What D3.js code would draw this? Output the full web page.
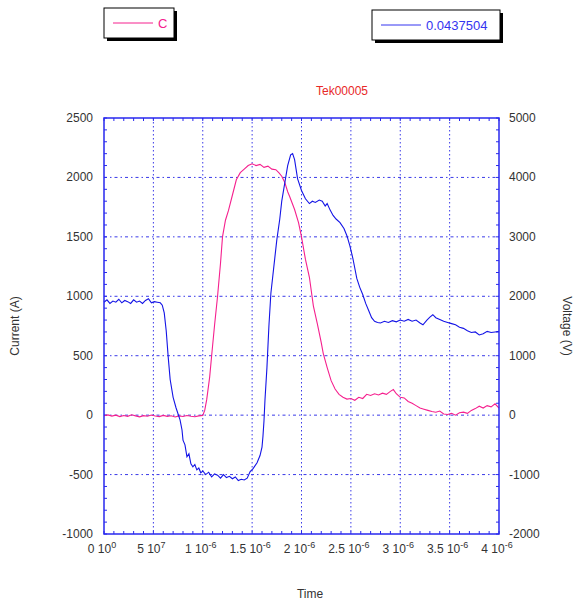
<!DOCTYPE html>
<html>
<head>
<meta charset="utf-8">
<script src="https://cdn.jsdelivr.net/npm/d3@7"></script>
<style>
  body { margin: 0; background: #fff; }
  svg { display: block; font-family: "Liberation Sans", Arial, sans-serif; }
</style>
</head>
<body>
<div id="container"></div>
<script>
// data (time in microseconds)
const currentPts = [
  [0.00, -5], [0.04, 2], [0.08, -8], [0.12, 0], [0.16, -12], [0.20, -3], [0.24, -10], [0.28, 3],
  [0.32, -6], [0.36, -14], [0.40, -4], [0.44, -9], [0.48, 1], [0.52, -7], [0.56, -12], [0.60, -2],
  [0.64, -10], [0.68, -5], [0.72, -15], [0.76, -6], [0.80, -11], [0.84, -3], [0.88, -9], [0.92, -14],
  [0.96, -6], [1.00, -2], [1.02, 40], [1.04, 130], [1.07, 320], [1.09, 500], [1.12, 760], [1.15, 1000],
  [1.18, 1280], [1.20, 1500], [1.23, 1640], [1.26, 1720], [1.30, 1850], [1.34, 1980], [1.38, 2040],
  [1.42, 2070], [1.46, 2100], [1.50, 2115], [1.54, 2100], [1.58, 2110], [1.62, 2085], [1.66, 2095],
  [1.70, 2070], [1.74, 2065], [1.77, 2040], [1.80, 2010], [1.83, 1960], [1.86, 1880], [1.88, 1840],
  [1.93, 1730], [1.97, 1620], [2.00, 1500], [2.04, 1310], [2.08, 1160], [2.12, 920], [2.16, 770],
  [2.20, 610], [2.22, 520], [2.26, 400], [2.30, 290], [2.34, 220], [2.38, 175], [2.42, 150], [2.46, 135],
  [2.50, 140], [2.54, 125], [2.58, 150], [2.62, 140], [2.66, 175], [2.70, 165], [2.74, 180], [2.78, 170],
  [2.82, 185], [2.86, 175], [2.90, 200], [2.93, 215], [2.96, 180], [3.00, 150], [3.04, 145], [3.08, 115],
  [3.12, 100], [3.16, 80], [3.20, 60], [3.24, 50], [3.28, 40], [3.32, 30], [3.36, 25], [3.40, 35],
  [3.44, 10], [3.48, 5], [3.52, 15], [3.56, 0], [3.60, 20], [3.64, 25], [3.68, 15], [3.72, 40],
  [3.76, 55], [3.80, 75], [3.84, 60], [3.88, 80], [3.92, 70], [3.96, 95], [4.00, 60]
];

const voltagePts = [
  [0.00, 1900], [0.03, 1940], [0.06, 1880], [0.09, 1920], [0.12, 1900], [0.15, 1950], [0.18, 1890],
  [0.21, 1930], [0.24, 1910], [0.27, 1880], [0.30, 1940], [0.33, 1900], [0.36, 1920], [0.39, 1880],
  [0.42, 1930], [0.45, 1960], [0.48, 1890], [0.51, 1910], [0.54, 1900], [0.57, 1890], [0.59, 1850],
  [0.61, 1720], [0.63, 1420], [0.65, 980], [0.67, 600], [0.70, 300], [0.73, 120], [0.77, -80],
  [0.79, -250], [0.80, -420], [0.82, -500], [0.84, -700], [0.86, -650], [0.88, -820], [0.90, -870],
  [0.92, -830], [0.94, -920], [0.96, -890], [0.98, -970], [1.00, -940], [1.03, -1000], [1.06, -960],
  [1.09, -1040], [1.12, -990], [1.15, -1010], [1.18, -1060], [1.21, -1000], [1.24, -1050], [1.27, -1030],
  [1.30, -1070], [1.33, -1040], [1.36, -1100], [1.39, -1080], [1.42, -1090], [1.45, -1060], [1.48, -950],
  [1.51, -900], [1.55, -800], [1.58, -680], [1.60, -540], [1.61, -350], [1.62, -100], [1.63, 250],
  [1.65, 800], [1.67, 1500], [1.69, 2050], [1.71, 2350], [1.73, 2650], [1.75, 2950], [1.78, 3300],
  [1.80, 3600], [1.83, 3900], [1.86, 4200], [1.89, 4380], [1.91, 4400], [1.93, 4300], [1.96, 3980],
  [2.00, 3780], [2.04, 3640], [2.08, 3560], [2.11, 3600], [2.14, 3580], [2.18, 3620], [2.21, 3600],
  [2.24, 3520], [2.26, 3560], [2.29, 3450], [2.32, 3360], [2.35, 3300], [2.39, 3240], [2.43, 3140],
  [2.46, 3020], [2.49, 2850], [2.52, 2640], [2.56, 2300], [2.59, 2150], [2.62, 2030], [2.65, 1880],
  [2.68, 1760], [2.71, 1640], [2.74, 1580], [2.77, 1560], [2.80, 1550], [2.84, 1580], [2.88, 1560],
  [2.92, 1590], [2.96, 1570], [3.00, 1600], [3.04, 1580], [3.08, 1610], [3.12, 1580], [3.16, 1600],
  [3.20, 1550], [3.23, 1520], [3.27, 1600], [3.30, 1650], [3.33, 1690], [3.36, 1640], [3.40, 1610],
  [3.44, 1580], [3.48, 1560], [3.52, 1540], [3.56, 1520], [3.60, 1480], [3.64, 1460], [3.68, 1420],
  [3.72, 1390], [3.76, 1400], [3.80, 1350], [3.84, 1370], [3.88, 1410], [3.92, 1390], [3.96, 1400],
  [4.00, 1410]
];

const xTicks = [0, 0.5, 1, 1.5, 2, 2.5, 3, 3.5, 4];
const xTickMant = ["0", "5", "1", "1.5", "2", "2.5", "3", "3.5", "4"];
const xTickExp = ["0", "7", "-6", "-6", "-6", "-6", "-6", "-6", "-6"];
const yLeftTicks = [-1000, -500, 0, 500, 1000, 1500, 2000, 2500];
const yRightTicks = [-2000, -1000, 0, 1000, 2000, 3000, 4000, 5000];

const legendLabels = ["C", "0.0437504"];
const title = "Tek00005";

const W = 578, H = 602;
const plot = {left: 104, right: 499, top: 118, bottom: 534};
const pink = "#f5208e", blue = "#1414e6", frame = "#2828ee", grid = "#3a3ae8";

const svg = d3.select("#container").append("svg")
  .attr("width", W).attr("height", H);

const x = d3.scaleLinear().domain([0, 4]).range([plot.left, plot.right]);
const yL = d3.scaleLinear().domain([-1000, 2500]).range([plot.bottom, plot.top]);
const yR = d3.scaleLinear().domain([-2000, 5000]).range([plot.bottom, plot.top]);

// grid
svg.append("g").selectAll("line").data(xTicks.slice(1, -1)).join("line")
  .attr("x1", d => x(d)).attr("x2", d => x(d))
  .attr("y1", plot.top).attr("y2", plot.bottom)
  .attr("stroke", grid).attr("stroke-width", 1)
  .attr("stroke-dasharray", "1.5,2.5");

svg.append("g").selectAll("line").data(yLeftTicks.slice(1, -1)).join("line")
  .attr("y1", d => yL(d)).attr("y2", d => yL(d))
  .attr("x1", plot.left).attr("x2", plot.right)
  .attr("stroke", grid).attr("stroke-width", 1)
  .attr("stroke-dasharray", "3,3,1.5,3");

// minor / major ticks inside the frame
const tk = svg.append("g").attr("stroke", frame).attr("stroke-width", 1);
x.ticks(40).forEach(t => {
  tk.append("line").attr("x1", x(t)).attr("x2", x(t)).attr("y1", plot.top).attr("y2", plot.top + 3);
  tk.append("line").attr("x1", x(t)).attr("x2", x(t)).attr("y1", plot.bottom).attr("y2", plot.bottom - 3);
});
yL.ticks(35).forEach(t => {
  tk.append("line").attr("y1", yL(t)).attr("y2", yL(t)).attr("x1", plot.left).attr("x2", plot.left + 3);
});
yR.ticks(35).forEach(t => {
  tk.append("line").attr("y1", yR(t)).attr("y2", yR(t)).attr("x1", plot.right).attr("x2", plot.right - 3);
});

// traces
const lineL = d3.line().x(d => x(d[0])).y(d => yL(d[1]));
const lineR = d3.line().x(d => x(d[0])).y(d => yR(d[1]));

svg.append("path").attr("d", lineL(currentPts))
  .attr("fill", "none").attr("stroke", pink).attr("stroke-width", 1.1);
svg.append("path").attr("d", lineR(voltagePts))
  .attr("fill", "none").attr("stroke", blue).attr("stroke-width", 1.1);

// frame
svg.append("rect")
  .attr("x", plot.left).attr("y", plot.top)
  .attr("width", plot.right - plot.left).attr("height", plot.bottom - plot.top)
  .attr("fill", "none").attr("stroke", frame).attr("stroke-width", 1.5);

// tick labels
const lab = svg.append("g").attr("fill", "#333").style("font-size", "12px");
yLeftTicks.forEach(t => {
  lab.append("text").attr("x", 93).attr("y", yL(t) + 4)
    .attr("text-anchor", "end").text(t);
});
yRightTicks.forEach(t => {
  lab.append("text").attr("x", 509).attr("y", yR(t) + 4)
    .attr("text-anchor", "start").text(t);
});
xTicks.forEach((t, i) => {
  const tx = lab.append("text").attr("x", x(t) - 2).attr("y", 553).attr("text-anchor", "middle");
  tx.append("tspan").text(xTickMant[i] + " 10");
  tx.append("tspan").attr("dy", -5).style("font-size", "9px").text(xTickExp[i]);
});

// axis titles
svg.append("text").attr("x", 310).attr("y", 598).attr("text-anchor", "middle")
  .attr("fill", "#333").style("font-size", "12px").text("Time");
svg.append("text").attr("transform", "translate(19,326) rotate(-90)").attr("text-anchor", "middle")
  .attr("fill", "#333").style("font-size", "12px").text("Current (A)");
svg.append("text").attr("transform", "translate(563,326) rotate(90)").attr("text-anchor", "middle")
  .attr("fill", "#333").style("font-size", "12px").text("Voltage (V)");

svg.append("text").attr("x", 342).attr("y", 95).attr("text-anchor", "middle")
  .attr("fill", "#e82828").style("font-size", "12px").text(title);

// legend boxes
const legends = [
  {x: 104, y: 8, w: 70, h: 30, color: pink, label: legendLabels[0]},
  {x: 372, y: 10, w: 128, h: 30, color: "#3434f0", label: legendLabels[1]}
];
legends.forEach(l => {
  const g = svg.append("g");
  g.append("rect").attr("x", l.x + 3).attr("y", l.y + 3).attr("width", l.w).attr("height", l.h).attr("fill", "#000");
  g.append("rect").attr("x", l.x).attr("y", l.y).attr("width", l.w).attr("height", l.h)
    .attr("fill", "#fff").attr("stroke", "#000").attr("stroke-width", 1);
  g.append("line").attr("x1", l.x + 9).attr("x2", l.x + 49).attr("y1", l.y + 15).attr("y2", l.y + 15)
    .attr("stroke", l.color).attr("stroke-width", 1);
  g.append("text").attr("x", l.x + 54).attr("y", l.y + 20)
    .attr("fill", l.color).style("font-size", "13px").text(l.label);
});
</script>
</body>
</html>
